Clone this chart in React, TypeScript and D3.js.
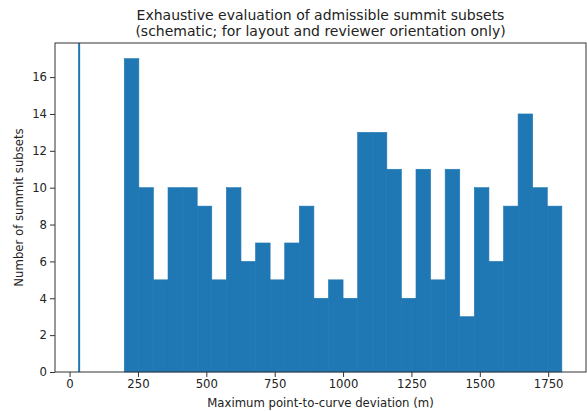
import React, { useEffect, useRef } from 'react';
import * as d3 from 'd3';

// 30 equal bins from 200 m to 1800 m
const binStart = 200;
const binEnd = 1800;
const counts = [17, 10, 5, 10, 10, 9, 5, 10, 6, 7, 5, 7, 9, 4, 5, 4, 13, 13, 11, 4, 11, 5, 11, 3, 10, 6, 9, 14, 10, 9];
const markerValue = [35];
const xTicks = [0, 250, 500, 750, 1000, 1250, 1500, 1750];
const yTicks = [0, 2, 4, 6, 8, 10, 12, 14, 16];
const titleLines = [
  'Exhaustive evaluation of admissible summit subsets',
  '(schematic; for layout and reviewer orientation only)',
];

const App = () => {
  const ref = useRef<SVGSVGElement>(null);

  useEffect(() => {
    const svg = d3.select(ref.current);
    svg.selectAll('*').remove();
    const width = 587;
    const height = 412;
    const m = { left: 55, top: 43, right: 586, bottom: 372 };
    const font = 'DejaVu Sans, sans-serif';
    const blue = '#1f77b4';

    const binW = (binEnd - binStart) / counts.length;
    const bins = counts.map((c, i) => ({ x0: binStart + i * binW, x1: binStart + (i + 1) * binW, c }));

    const xMin = Math.min(markerValue[0], binStart);
    const xPad = (binEnd - xMin) * 0.05;
    const x = d3.scaleLinear().domain([xMin - xPad, binEnd + xPad]).range([m.left, m.right]);
    const yMax = d3.max(counts) * 1.05;
    const y = d3.scaleLinear().domain([0, yMax]).range([m.bottom, m.top]);

    svg.attr('width', width).attr('height', height);

    svg.append('g')
      .selectAll('rect')
      .data(bins)
      .enter()
      .append('rect')
      .attr('x', (d) => x(d.x0))
      .attr('width', (d) => x(d.x1) - x(d.x0))
      .attr('y', (d) => y(d.c))
      .attr('height', (d) => y(0) - y(d.c))
      .attr('fill', blue)
      .attr('stroke', blue)
      .attr('stroke-width', 0.6);

    svg.selectAll('line.marker')
      .data(markerValue)
      .enter()
      .append('line')
      .attr('class', 'marker')
      .attr('x1', (d) => x(d))
      .attr('x2', (d) => x(d))
      .attr('y1', m.top)
      .attr('y2', m.bottom)
      .attr('stroke', blue)
      .attr('stroke-width', 2);

    // frame
    svg.append('rect')
      .attr('x', m.left)
      .attr('y', m.top)
      .attr('width', m.right - m.left)
      .attr('height', m.bottom - m.top)
      .attr('fill', 'none')
      .attr('stroke', '#333')
      .attr('stroke-width', 1);

    const xAxis = svg.append('g')
      .attr('transform', `translate(0,${m.bottom})`)
      .call(d3.axisBottom(x).tickValues(xTicks).tickSize(5).tickPadding(3).tickFormat(d3.format('d')));
    xAxis.select('.domain').remove();

    const yAxis = svg.append('g')
      .attr('transform', `translate(${m.left},0)`)
      .call(d3.axisLeft(y).tickValues(yTicks).tickSize(5).tickPadding(3).tickFormat(d3.format('d')));
    yAxis.select('.domain').remove();

    svg.selectAll('.tick line').attr('stroke', '#333');
    svg.selectAll('.tick text')
      .attr('font-family', font)
      .attr('font-size', 11.7)
      .attr('fill', '#222');

    svg.append('text')
      .attr('x', (m.left + m.right) / 2)
      .attr('y', 407)
      .attr('text-anchor', 'middle')
      .attr('font-family', font)
      .attr('font-size', 11.7)
      .attr('fill', '#222')
      .text('Maximum point-to-curve deviation (m)');

    svg.append('text')
      .attr('transform', `translate(23,${(m.top + m.bottom) / 2}) rotate(-90)`)
      .attr('text-anchor', 'middle')
      .attr('font-family', font)
      .attr('font-size', 11.7)
      .attr('fill', '#222')
      .text('Number of summit subsets');

    svg.append('g')
      .selectAll('text')
      .data(titleLines)
      .enter()
      .append('text')
      .attr('x', (m.left + m.right) / 2)
      .attr('y', (d, i) => 20 + i * 16)
      .attr('text-anchor', 'middle')
      .attr('font-family', font)
      .attr('font-size', 14)
      .attr('fill', '#222')
      .text((d) => d);
  }, []);

  return <svg ref={ref} style={{ position: 'absolute', left: 0, top: 0 }} />;
};

export default App;
